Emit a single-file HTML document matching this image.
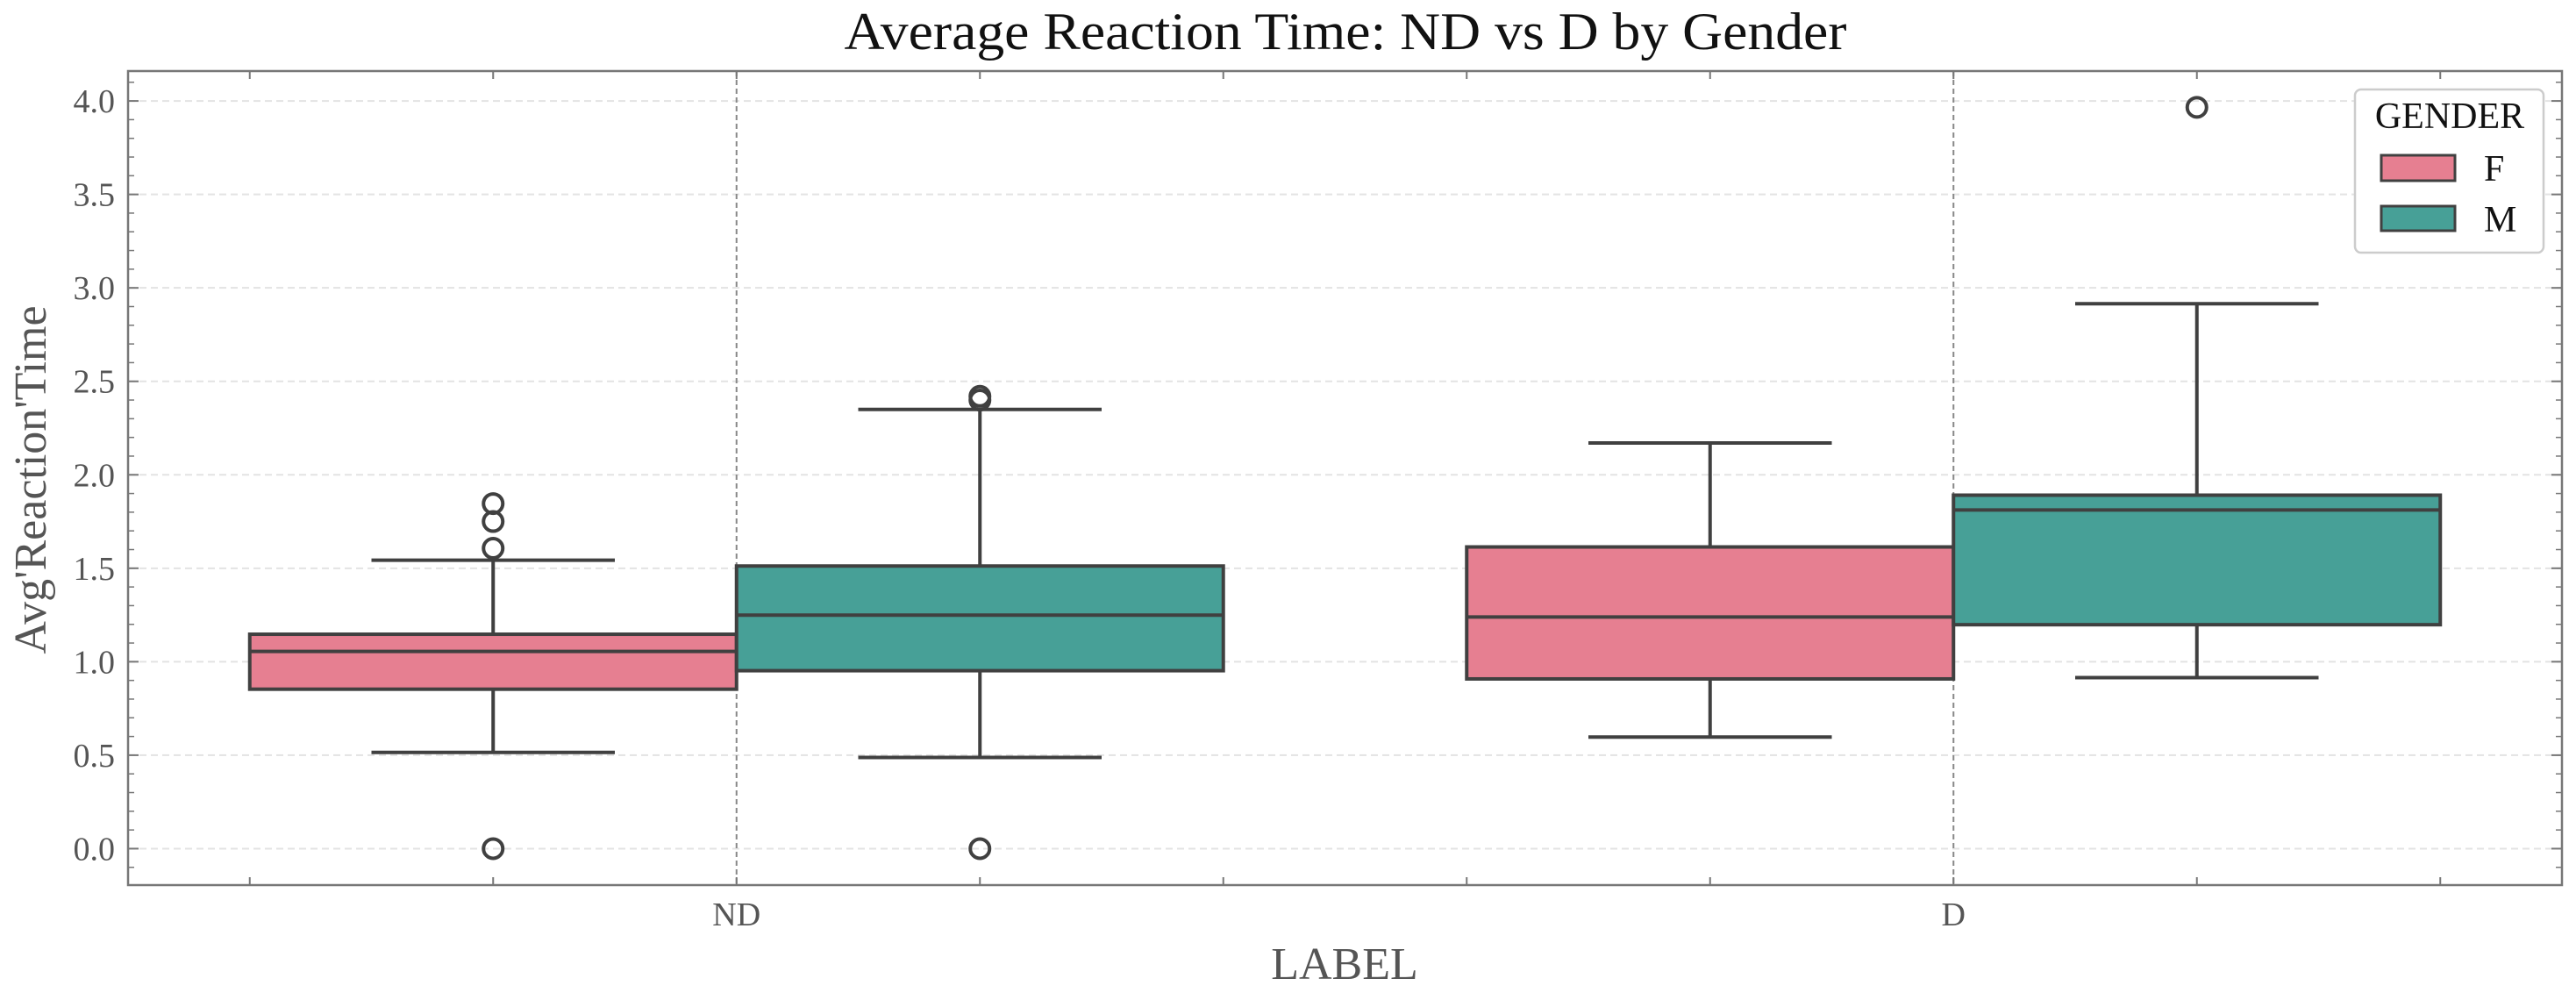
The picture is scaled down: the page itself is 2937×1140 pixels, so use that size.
<!DOCTYPE html>
<html><head><meta charset="utf-8"><style>
html,body{margin:0;padding:0;background:#fff;}
svg{display:block;font-family:"Liberation Serif","DejaVu Serif",serif;}
</style></head><body>
<svg id="chart" width="2937" height="1140" xmlns="http://www.w3.org/2000/svg">
<rect x="0" y="0" width="2937" height="1140" fill="#fff"/>
<g id="grid"></g>
<g id="boxes"></g>
<g id="axes"></g>
<text x="1534" y="56" text-anchor="middle" font-size="60" fill="#111" textLength="1143" lengthAdjust="spacingAndGlyphs">Average Reaction Time: ND vs D by Gender</text>
<text x="1533" y="1116" text-anchor="middle" font-size="52" fill="#555">LABEL</text>
<text transform="translate(52,547) rotate(-90)" text-anchor="middle" font-size="52" fill="#555">Avg'Reaction'Time</text>
<g id="legend">
<rect x="2685" y="102" width="215" height="186" rx="7" fill="#fff" stroke="#ccc" stroke-width="2.5"/>
<text x="2793" y="146" text-anchor="middle" font-size="42" fill="#111">GENDER</text>
<rect x="2715" y="177" width="84" height="29" fill="#e67f91" stroke="#404040" stroke-width="3"/>
<text x="2832" y="206" font-size="42" fill="#111">F</text>
<rect x="2715" y="235" width="84" height="28" fill="#47a097" stroke="#404040" stroke-width="3"/>
<text x="2832" y="264" font-size="42" fill="#111">M</text>
</g>
</svg>
<script>
const categories = ["ND", "D"];
const genders = ["F", "M"];
const colors = ["#e67f91", "#47a097"];
// [whiskerLow, q1, median, q3, whiskerHigh] per category for each gender
const statsF = [[0.515, 0.853, 1.055, 1.147, 1.543], [0.597, 0.908, 1.239, 1.614, 2.17]];
const statsM = [[0.488, 0.952, 1.249, 1.512, 2.35], [0.915, 1.198, 1.812, 1.891, 2.915]];
const outliersF = [[1.846, 1.75, 1.607, 0.0], []];
const outliersM = [[2.42, 2.40, 0.0], [3.966]];
const yTicks = [0.0, 0.5, 1.0, 1.5, 2.0, 2.5, 3.0, 3.5, 4.0];
const yTickLabels = ["0.0", "0.5", "1.0", "1.5", "2.0", "2.5", "3.0", "3.5", "4.0"];

const NS = "http://www.w3.org/2000/svg";
const L = 146, R = 2921, T = 81, B = 1009;
const yMin = -0.195, yMax = 4.16, xMin = -0.5, xMax = 1.5;
const X = v => L + (v - xMin) / (xMax - xMin) * (R - L);
const Y = v => B - (v - yMin) / (yMax - yMin) * (B - T);
function mk(tag, attrs, parent) {
  const e = document.createElementNS(NS, tag);
  for (const k in attrs) e.setAttribute(k, attrs[k]);
  parent.appendChild(e);
  return e;
}
const grid = document.getElementById('grid');
const boxes = document.getElementById('boxes');
const axes = document.getElementById('axes');

yTicks.forEach((t, i) => {
  const g = mk('line', {x1: L, x2: R, y1: Y(t), y2: Y(t), stroke: '#e3e3e3', 'stroke-width': 2, 'stroke-dasharray': '8,5'}, grid);
  
  
  const lab = mk('text', {x: 131, y: Y(t) + 13, 'text-anchor': 'end', 'font-size': 38, fill: '#555'}, axes);
  lab.textContent = yTickLabels[i];
  
  
  [[L, L + 12], [R, R - 12]].forEach(p => {
    const tk = mk('line', {x1: p[0], x2: p[1], y1: Y(t), y2: Y(t), stroke: '#777', 'stroke-width': 2}, axes);
    
    
  });
});
for (let m = -1; m <= 41; m++) {
  const v = m / 10;
  if (v < yMin || v > yMax || m % 5 === 0) continue;
  [[L, L + 7], [R, R - 7]].forEach(p => {
    const tk = mk('line', {x1: p[0], x2: p[1], y1: Y(v), y2: Y(v), stroke: '#777', 'stroke-width': 1.5}, axes);
    
    
  });
}
categories.forEach((c, i) => {
  const g = mk('line', {x1: X(i), x2: X(i), y1: T, y2: B, stroke: '#888', 'stroke-width': 2, 'stroke-dasharray': '6,4'}, grid);
  
  
  const lab = mk('text', {x: X(i), y: 1055, 'text-anchor': 'middle', 'font-size': 38, fill: '#555'}, axes);
  lab.textContent = c;
  
  
});
for (let m = -2; m <= 7; m++) {
  const v = m * 0.2;
  [[B, B - 9], [T, T + 9]].forEach(p => {
    const tk = mk('line', {x1: X(v), x2: X(v), y1: p[0], y2: p[1], stroke: '#777', 'stroke-width': 2}, axes);
    
    
  });
}
const allStats = [statsF, statsM];
const allOut = [outliersF, outliersM];
const W = 0.4;
categories.forEach((c, ci) => {
  genders.forEach((g, gi) => {
    const s = allStats[gi][ci];
    const cx = ci + (gi === 0 ? -0.2 : 0.2);
    const x0 = X(cx - W / 2), x1 = X(cx + W / 2);
    const wl = mk('line', {x1: X(cx), x2: X(cx), y1: Y(s[0]), y2: Y(s[1]), stroke: '#404040', 'stroke-width': 4}, boxes);
    
    
    const wh = mk('line', {x1: X(cx), x2: X(cx), y1: Y(s[3]), y2: Y(s[4]), stroke: '#404040', 'stroke-width': 4}, boxes);
    
    
    [s[0], s[4]].forEach(v => {
      const cap = mk('line', {x1: X(cx - W / 4), x2: X(cx + W / 4), y1: Y(v), y2: Y(v), stroke: '#404040', 'stroke-width': 4}, boxes);
      
      
    });
    const bx = mk('rect', {x: x0, y: Y(s[3]), width: x1 - x0, height: Y(s[1]) - Y(s[3]), fill: colors[gi], stroke: '#404040', 'stroke-width': 4}, boxes);
    
    
    const md = mk('line', {x1: x0, x2: x1, y1: Y(s[2]), y2: Y(s[2]), stroke: '#404040', 'stroke-width': 4}, boxes);
    
    
    allOut[gi][ci].forEach(v => {
      const o = mk('circle', {cx: X(cx), cy: Y(v), r: 11, fill: 'none', stroke: '#404040', 'stroke-width': 4}, boxes);
      
      
    });
  });
});
const frame = mk('rect', {x: L, y: T, width: R - L, height: B - T, fill: 'none', stroke: '#777', 'stroke-width': 2.5}, axes);


</script>
</body></html>
